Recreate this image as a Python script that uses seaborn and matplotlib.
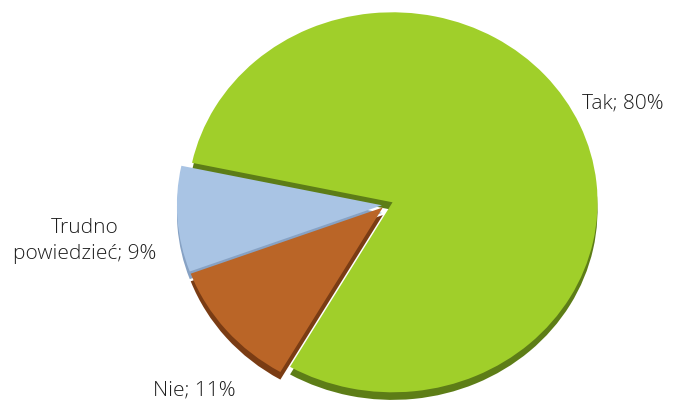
import matplotlib
matplotlib.use("Agg")
import matplotlib.pyplot as plt
import seaborn as sns

# data
categories = ["Tak", "Nie", "Trudno\npowiedzieć"]
values = [80, 11, 9]
colors = ["#a0cf2a", "#ba6527", "#a9c4e4"]
side_colors = ["#5d7d17", "#7a3c14", "#87a2c4"]
explode = [0.035, 0.02, 0.02]

sns.set_theme(style="white")
plt.rcParams["font.family"] = ["Open Sans", "DejaVu Sans"]

fig = plt.figure(figsize=(6.73, 4.07), dpi=100)
ax = fig.add_axes([0, 0, 1, 1])

# darker copy shifted down gives the slice thickness
ax.pie(values, colors=side_colors, explode=explode, startangle=168,
       counterclock=False, center=(0, -0.04), wedgeprops=dict(linewidth=0))
ax.pie(values, colors=colors, explode=explode, startangle=168,
       counterclock=False, wedgeprops=dict(linewidth=0))

# stretch to the flattened look of the original
cx, cy, rx, ry = 386, 205, 205, 190
ax.set_aspect("auto")
ax.set_xlim(-cx / rx, (673 - cx) / rx)
ax.set_ylim(-(407 - cy) / ry, cy / ry)
ax.axis("off")

labels = [f"{c}; {v}%" for c, v in zip(categories, values)]
txt = dict(fontsize=15, color="#1e1e1e", fontweight="light")
ax.text((582 - cx) / rx, 0.532, labels[0], ha="left", va="center", **txt)
ax.text((236 - cx) / rx, -0.974, labels[1], ha="right", va="center", **txt)
ax.text((85 - cx) / rx, -0.189, labels[2], ha="center", va="center",
        linespacing=1.35, **txt)

fig.savefig("out.png", dpi=100)
